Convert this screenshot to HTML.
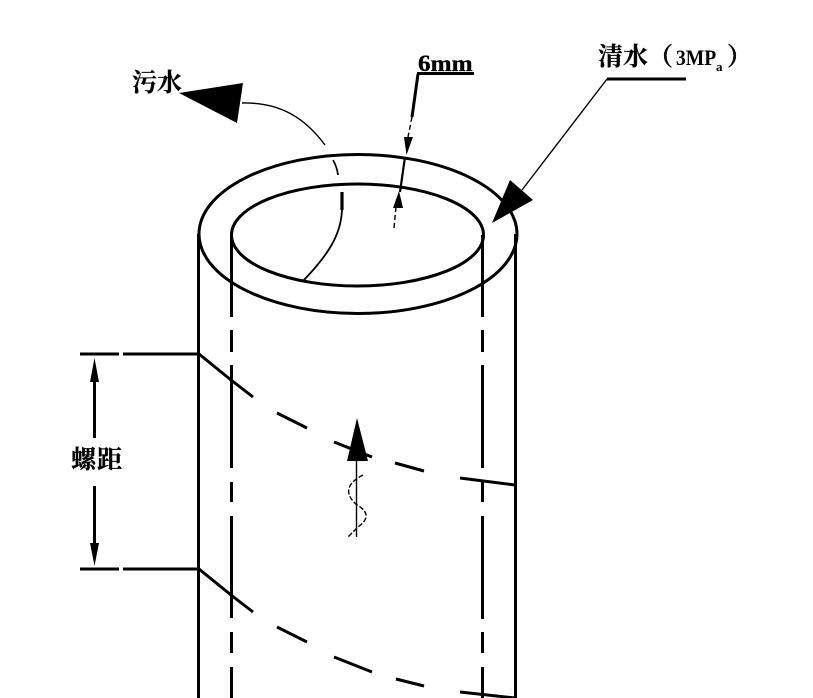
<!DOCTYPE html>
<html><head><meta charset="utf-8"><style>
html,body{margin:0;padding:0;background:#fff}
svg{display:block}
text{fill:#000}
.c{font-family:"Liberation Serif","Noto Serif CJK SC",serif;font-size:25px;font-weight:700}
</style></head><body>
<svg width="813" height="698" viewBox="0 0 813 698" xmlns="http://www.w3.org/2000/svg">
<rect width="813" height="698" fill="#fff"/>
<g fill="none" stroke="#000" stroke-width="3">
<ellipse cx="358" cy="234" rx="159" ry="79.5"/>
<ellipse cx="357.5" cy="235" rx="126" ry="51"/>
<path d="M198.5 234V698M515.5 234V698"/>
<path d="M231.5 235V317M231.5 330V352M231.5 365V468M231.5 482V502M231.5 516V618M231.5 632V653M231.5 667V698"/>
<path d="M482.5 235V317M482.5 330V352M482.5 365V468M482.5 482V502M482.5 516V619M482.5 632V653M482.5 667V698"/>
<path d="M80 354H119M123 354H199M80 569H119M123 569H199"/>
<path d="M199 354L231 380L253 397M277 413L307 428M334 442L372 457M395 463L424 471M460 478L515 485"/>
<path d="M199 569L231 595L253 612M277 627L307 642M334 657L372 672M396 679L424 686M460 692L515 698"/>
<path d="M94.5 375V438M94.5 486V550"/>
<path d="M417 73.5H474"/>
<path d="M607 79H686"/>
<path d="M418 74L412 117"/>
<path d="M405 157L400 192" stroke-width="2.2"/>
<path d="M342 192V210" stroke-width="3.2"/>
<path d="M342 210C341 235 328 255 303 281" stroke-width="1.8"/>
</g>
<g fill="none" stroke="#000" stroke-width="1.4">
<path d="M242 103C280 102 305 118 325 145"/>
<path d="M333 160Q337 167 338 175" stroke-width="1.7"/>
<path d="M607 79L522 190"/>
<path d="M412 117L408 137" stroke-dasharray="5 3"/>
<path d="M396 207L394 228" stroke-dasharray="5 3"/>
<path d="M356.5 461V537"/>
<path d="M363 475C345 484 345 495 357 505C370 512 368 520 358 527L348 537" stroke-dasharray="5 2"/>
</g>
<g fill="#000">
<polygon points="179,93 243,83 237,123"/>
<polygon points="492,223 510,180 533,200"/>
<polygon points="406.5,155 404,137 413,137"/>
<polygon points="399,191 393,208 403,208"/>
<polygon points="357,418 347,461 368,461"/>
<polygon points="94.5,358 90,382 99,382"/>
<polygon points="94.5,566 90,543 99,543"/>
</g>
<text class="c" x="132" y="91" stroke="#000" stroke-width=".3">污水</text>
<text class="c" x="71" y="468" letter-spacing="1" stroke="#000" stroke-width=".3">螺距</text>
<text class="c" x="598" y="65" stroke="#000" stroke-width=".3">清水</text>
<text class="c" x="648" y="65" stroke="#000" stroke-width=".3">（</text>
<text transform="translate(676 65) scale(.98 1.1)" font-family="Liberation Serif, serif" font-weight="700" font-size="20">3MP</text>
<text x="716" y="71" font-family="Liberation Serif, serif" font-weight="700" font-size="13">a</text>
<text class="c" x="727" y="65" stroke="#000" stroke-width=".3">）</text>
<text transform="translate(418 71) scale(1.2 1.1)" font-family="Liberation Serif, serif" font-weight="700" font-size="21" stroke="#000" stroke-width=".3">6mm</text>
</svg>
</body></html>
